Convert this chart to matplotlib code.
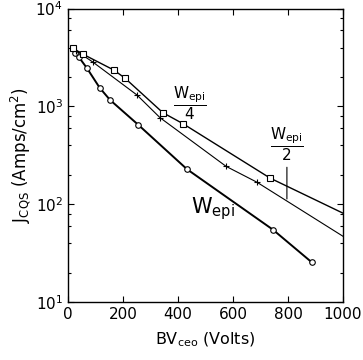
import numpy as np
import matplotlib
matplotlib.use('Agg')
import matplotlib.pyplot as plt
from matplotlib.ticker import LogLocator, NullFormatter

plt.rcParams['font.family'] = ['DejaVu Sans']
plt.rcParams['mathtext.default'] = 'regular'

# ---------- data ----------
# W_epi (open circles)
bv_w1 = [25, 40, 69, 116, 153, 255, 433, 745, 887]
j_w1 = [3500, 3190, 2470, 1545, 1167, 652, 228, 55, 25.4]

# W_epi / 2 (crosses), last point = where line meets the right axis
bv_w2 = [30, 91, 251, 335, 575, 687, 1000]
j_w2 = [3700, 2840, 1310, 767, 244, 168, 47]

# W_epi / 4 (open squares), last point = where line meets the right axis
bv_w4 = [18, 55, 167, 207, 345, 418, 735, 1000]
j_w4 = [3930, 3420, 2355, 1952, 864, 667, 185, 81]

xticks = [0, 200, 400, 600, 800, 1000]

# ---------- plot ----------
fig = plt.figure(figsize=(3.63, 3.60), dpi=100)
ax = fig.add_axes([0.187, 0.161, 0.758, 0.815])

ax.plot(bv_w1, j_w1, '-', color='black', lw=1.4, marker='o', ms=4,
        mfc='white', mec='black', mew=0.8)
ax.plot(bv_w2, j_w2, '-', color='black', lw=0.8, marker='+', ms=5,
        mew=0.8, markevery=list(range(len(bv_w2) - 1)))
ax.plot(bv_w4, j_w4, '-', color='black', lw=1.0, marker='s', ms=4,
        mfc='white', mec='black', mew=0.8, markevery=list(range(len(bv_w4) - 1)))

ax.set_yscale('log')
ax.set_xlim(0, 1000)
ax.set_ylim(10, 1e4)
ax.set_xticks(xticks)
ax.yaxis.set_minor_locator(LogLocator(base=10, subs=[2, 4, 6, 8]))
ax.yaxis.set_minor_formatter(NullFormatter())
ax.tick_params(which='both', direction='in', top=True, right=True,
               labelsize=11, width=0.8)
ax.tick_params(which='major', length=4)
ax.tick_params(which='minor', length=2.5)
for s in ax.spines.values():
    s.set_linewidth(1.0)

ax.set_xlabel(r'$BV_{ceo}$ (Volts)', fontsize=11.5, labelpad=6)
ax.set_ylabel(r'$J_{CQS}$ (Amps/cm$^2$)', fontsize=12, labelpad=2)

# curve labels
ax.text(445, 1080, r'$\dfrac{W_{epi}}{4}$', fontsize=11, ha='center', va='center')
ax.text(795, 410, r'$\dfrac{W_{epi}}{2}$', fontsize=11, ha='center', va='center')
ax.text(527, 90, r'$W_{epi}$', fontsize=15, ha='center', va='center')
ax.annotate('', xy=(796, 106), xytext=(796, 255),
            arrowprops=dict(arrowstyle='-', lw=0.8, color='black'))

plt.savefig('out.png', dpi=100)
plt.close()
